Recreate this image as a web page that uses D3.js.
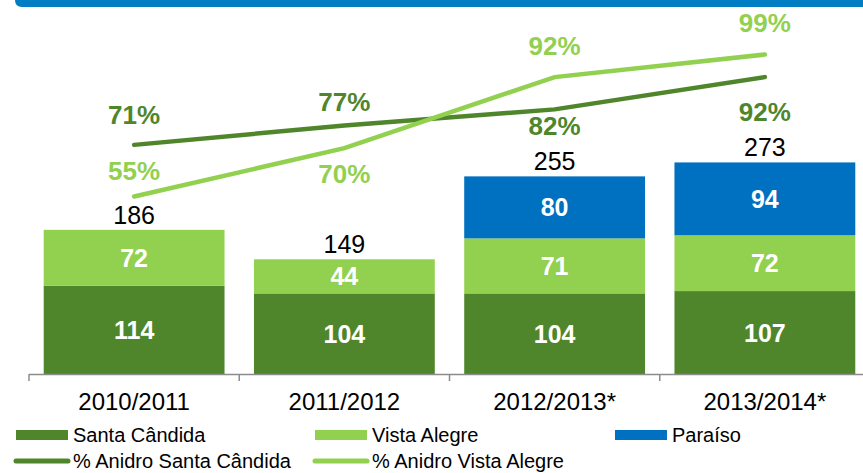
<!DOCTYPE html>
<html>
<head>
<meta charset="utf-8">
<script src="https://cdn.jsdelivr.net/npm/d3@7"></script>
<style>
  body { margin: 0; background: #fff; }
  svg { display: block; font-family: "Liberation Sans", Arial, sans-serif; }
</style>
</head>
<body>
<div id="plot"></div>
<script>
// Chart data
const seasons = ["2010/2011", "2011/2012", "2012/2013*", "2013/2014*"];
const santaCandida = [114, 104, 104, 107];
const vistaAlegre = [72, 44, 71, 72];
const paraiso = [0, 0, 80, 94];
const totals = [186, 149, 255, 273];
const anidroSanta = [71, 77, 82, 92];
const anidroVista = [55, 70, 92, 99];

const colors = {santa: "#4F862B", vista: "#92D050", paraiso: "#0070C0"};

const W = 863, H = 473;
const svg = d3.select("#plot").append("svg")
    .attr("width", W).attr("height", H);

// Top header strip
svg.append("path")
    .attr("d", "M15,0 H863 V7 H22 Q15,7 15,0 Z")
    .attr("fill", "#007DC3");

// Scales
const x = d3.scaleBand()
    .domain(seasons)
    .range([29, 870])
    .paddingInner(0.14)
    .paddingOuter(0.07);

const y = d3.scaleLinear().domain([0, 420]).range([374, 48.5]);
const yPct = d3.scaleLinear().domain([0, 100]).range([374, 51.3]);

// Stacked bars
const rows = seasons.map((s, i) => ({season: s, santa: santaCandida[i], vista: vistaAlegre[i], paraiso: paraiso[i]}));
const keys = ["santa", "vista", "paraiso"];
const stack = d3.stack().keys(keys)(rows);

const layer = svg.selectAll("g.layer")
    .data(stack)
    .join("g")
    .attr("class", "layer")
    .attr("fill", d => colors[d.key]);

layer.selectAll("rect")
    .data(d => d.filter(p => p[1] > p[0]))
    .join("rect")
    .attr("x", d => x(d.data.season))
    .attr("width", x.bandwidth())
    .attr("y", d => y(d[1]))
    .attr("height", d => y(d[0]) - y(d[1]));

layer.selectAll("text")
    .data(d => d.filter(p => p[1] > p[0]))
    .join("text")
    .attr("x", d => x(d.data.season) + x.bandwidth() / 2)
    .attr("y", d => (y(d[0]) + y(d[1])) / 2)
    .attr("dy", "0.36em")
    .attr("text-anchor", "middle")
    .attr("fill", "#fff")
    .style("font-size", "25px")
    .style("font-weight", "bold")
    .text(d => d[1] - d[0]);

// Totals
svg.selectAll("text.total")
    .data(seasons)
    .join("text")
    .attr("class", "total")
    .attr("x", d => x(d) + x.bandwidth() / 2)
    .attr("y", (d, i) => y(totals[i]) - 6)
    .attr("text-anchor", "middle")
    .attr("fill", "#000")
    .style("font-size", "25px")
    .text((d, i) => totals[i]);

// X axis
const axis = svg.append("g");
axis.append("line")
    .attr("x1", 29).attr("x2", W)
    .attr("y1", 374.5).attr("y2", 374.5)
    .attr("stroke", "#8c8c8c").attr("stroke-width", 1.5);
const step = x.step();
axis.selectAll("line.tick")
    .data(d3.range(seasons.length + 1))
    .join("line")
    .attr("class", "tick")
    .attr("x1", i => 29 + i * step).attr("x2", i => 29 + i * step)
    .attr("y1", 374).attr("y2", 381)
    .attr("stroke", "#8c8c8c").attr("stroke-width", 1.5);
axis.selectAll("text")
    .data(seasons)
    .join("text")
    .attr("x", d => x(d) + x.bandwidth() / 2)
    .attr("y", 410)
    .attr("text-anchor", "middle")
    .attr("fill", "#000")
    .style("font-size", "24px")
    .text(d => d);

// Lines
const line = d3.line()
    .x((d, i) => x(seasons[i]) + x.bandwidth() / 2)
    .y(d => yPct(d));

svg.append("path")
    .attr("d", line(anidroSanta))
    .attr("fill", "none")
    .attr("stroke", colors.santa)
    .attr("stroke-width", 4.5)
    .attr("stroke-linecap", "round");

svg.append("path")
    .attr("d", line(anidroVista))
    .attr("fill", "none")
    .attr("stroke", colors.vista)
    .attr("stroke-width", 4.5)
    .attr("stroke-linecap", "round");

// Percent labels: offset above (-) or below (+) the point
const santaOffset = [-30, -24, 16, 35];
const vistaOffset = [-26, 26, -31, -32];

function pctLabels(values, offsets, color) {
    svg.append("g").selectAll("text")
        .data(values)
        .join("text")
        .attr("x", (d, i) => x(seasons[i]) + x.bandwidth() / 2)
        .attr("y", (d, i) => yPct(d) + offsets[i])
        .attr("dy", "0.36em")
        .attr("text-anchor", "middle")
        .attr("fill", color)
        .style("font-size", "26px")
        .style("font-weight", "bold")
        .text(d => d + "%");
}
pctLabels(anidroSanta, santaOffset, colors.santa);
pctLabels(anidroVista, vistaOffset, colors.vista);

// Legend
const legendItems = [
    {label: "Santa Cândida", color: colors.santa, type: "rect", x: 16, y: 435},
    {label: "Vista Alegre", color: colors.vista, type: "rect", x: 315, y: 435},
    {label: "Paraíso", color: colors.paraiso, type: "rect", x: 615, y: 435},
    {label: "% Anidro Santa Cândida", color: colors.santa, type: "line", x: 16, y: 461},
    {label: "% Anidro Vista Alegre", color: colors.vista, type: "line", x: 315, y: 461}
];

const legend = svg.append("g").selectAll("g")
    .data(legendItems)
    .join("g")
    .attr("transform", d => `translate(${d.x},${d.y})`);

legend.filter(d => d.type === "rect").append("rect")
    .attr("x", 0).attr("y", -5)
    .attr("width", 52).attr("height", 10)
    .attr("fill", d => d.color);

legend.filter(d => d.type === "line").append("line")
    .attr("x1", 0).attr("x2", 52)
    .attr("y1", 0).attr("y2", 0)
    .attr("stroke", d => d.color)
    .attr("stroke-width", 5)
    .attr("stroke-linecap", "round");

legend.append("text")
    .attr("x", 57)
    .attr("y", 0)
    .attr("dy", "0.36em")
    .attr("fill", "#000")
    .style("font-size", "20px")
    .text(d => d.label);
</script>
</body>
</html>
